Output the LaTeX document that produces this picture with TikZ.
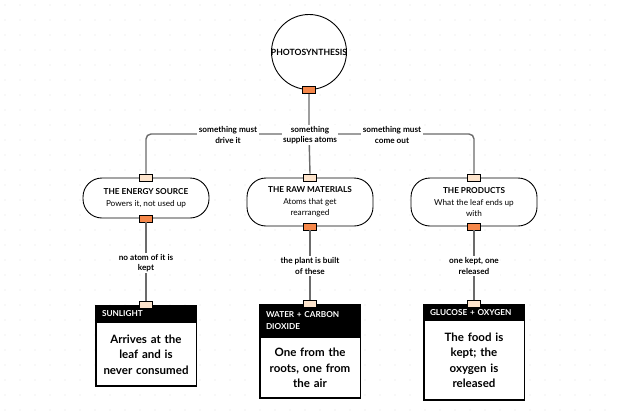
\documentclass[tikz,border=0pt]{standalone}
\usepackage{fontspec}
\setmainfont{Lato}
\definecolor{portlight}{HTML}{FDE4CC}
\definecolor{portdark}{HTML}{F5874A}
\definecolor{conncol}{HTML}{6B6B6B}
\definecolor{dotcol}{HTML}{E2E2E2}
\tikzset{
  port/.style={draw=black, line width=0.7pt, minimum width=13pt, minimum height=7pt, inner sep=0pt},
  portin/.style={port, fill=portlight},
  portout/.style={port, fill=portdark},
  conn/.style={draw=conncol, line width=1.4pt},
  lbl/.style={fill=white, inner sep=1.5pt, align=center, font=\fontsize{8.2}{10.5}\selectfont\bfseries},
  pill/.style={draw=black, line width=0.9pt, fill=white, rounded corners=19pt, minimum width=126pt, align=center, inner sep=0pt, font=\fontsize{8.2}{11}\selectfont},
  hdr/.style={fill=black, text=white, minimum width=100pt, inner xsep=6pt, inner ysep=0pt, align=left, text width=88pt, font=\fontsize{8.2}{12}\selectfont\bfseries, anchor=north},
  body/.style={draw=black, line width=0.9pt, fill=white, minimum width=100pt, inner sep=0pt, align=center, text width=96pt, font=\fontsize{11.5}{15.5}\selectfont\bfseries, anchor=north},
  cardframe/.style={draw=black, line width=0.9pt}
}
\begin{document}
\begin{tikzpicture}[x=1pt,y=-1pt]
\useasboundingbox (0,0) rectangle (620,415);
\fill[white] (0,0) rectangle (620,415);
\foreach \x in {5,20,...,615} \foreach \y in {5,20,...,410} \fill[dotcol] (\x,\y) circle (0.6pt);

% central circle
\node[circle, draw=black, line width=0.9pt, fill=white, minimum size=75pt, inner sep=0pt] (photo) at (309,52) {};
\node[font=\fontsize{8.6}{9}\selectfont\bfseries, inner sep=0pt] (phototxt) at (photo.center) {PHOTOSYNTHESIS};
\node[portout] (p0) at (309,90) {};

% pills
\node[pill, minimum height=40pt] (src) at (146,198) {{\bfseries THE ENERGY SOURCE}\\[1pt]Powers it, not used up};
\node[pill, minimum height=48pt] (raw) at (310,202) {{\bfseries THE RAW MATERIALS}\\[1pt]Atoms that get\\rearranged};
\node[pill, minimum height=48pt] (prod) at (474,202) {{\bfseries THE PRODUCTS}\\[1pt]What the leaf ends up\\with};

\node[portin] (srcin) at (src.north) {};
\node[portout] (srcout) at (src.south) {};
\node[portin] (rawin) at (raw.north) {};
\node[portout] (rawout) at (raw.south) {};
\node[portin] (prodin) at (prod.north) {};
\node[portout] (prodout) at (prod.south) {};

% cards
\node[hdr, minimum height=17pt] (h1) at (146,305) {SUNLIGHT};
\node[body, minimum height=63pt] (b1) at (h1.south) {Arrives at the\\leaf and is\\never consumed};
\node[hdr, minimum height=33pt] (h2) at (310,304) {WATER + CARBON\\DIOXIDE};
\node[body, minimum height=60pt] (b2) at (h2.south) {One from the\\roots, one from\\the air};
\node[hdr, minimum height=16pt] (h3) at (474,304) {GLUCOSE + OXYGEN};
\node[body, minimum height=79pt] (b3) at (h3.south) {The food is\\kept; the\\oxygen is\\released};
\draw[cardframe] (h1.north west) rectangle (b1.south east);
\draw[cardframe] (h2.north west) rectangle (b2.south east);
\draw[cardframe] (h3.north west) rectangle (b3.south east);

% connectors
\coordinate (j) at (309,134);
\draw[conn] (p0.south) -- (j) -- (rawin.north);
\draw[conn, rounded corners=5pt] (j) -| (srcin.north);
\draw[conn, rounded corners=5pt] (j) -| (prodin.north);
\node[lbl] (l1) at (228,135) {something must\\drive it};
\node[lbl] (l2) at (310,135) {something\\supplies atoms};
\node[lbl] (l3) at (392,135) {something must\\come out};

\node[portin] (c1in) at (h1.north) {};
\node[portin] (c2in) at (h2.north) {};
\node[portin] (c3in) at (h3.north) {};
\draw[conn] (srcout.south) -- (c1in.north);
\draw[conn] (rawout.south) -- (c2in.north);
\draw[conn] (prodout.south) -- (c3in.north);
\node[lbl] (l4) at (146,263) {no atom of it is\\kept};
\node[lbl] (l5) at (310,266) {the plant is built\\of these};
\node[lbl] (l6) at (474,266) {one kept, one\\released};
% redraw ports over lines
\node[portout] at (p0) {};
\node[portin] at (srcin) {};
\node[portin] at (rawin) {};
\node[portin] at (prodin) {};
\node[portin] at (c1in) {};
\node[portin] at (c2in) {};
\node[portin] at (c3in) {};
\end{tikzpicture}
\end{document}
